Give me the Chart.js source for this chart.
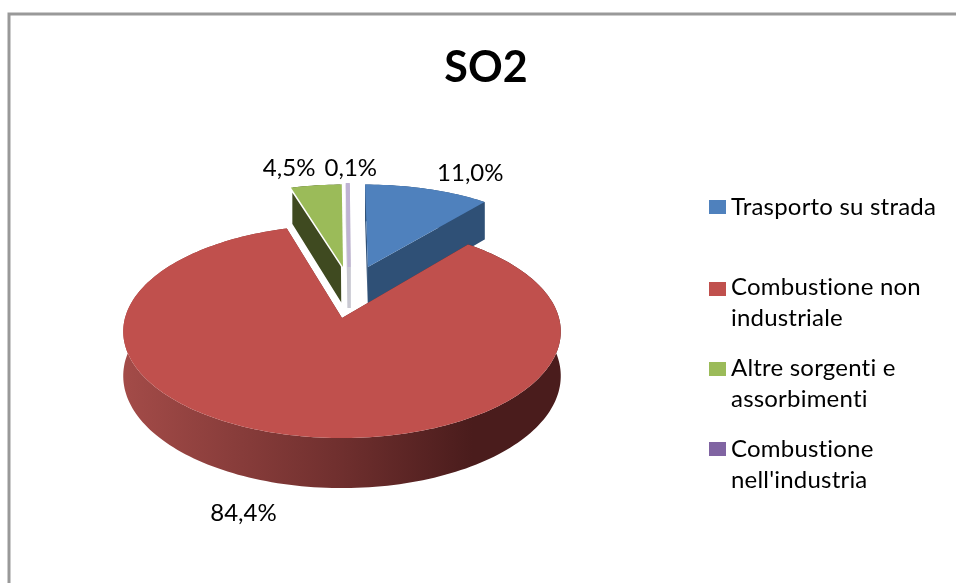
<!DOCTYPE html>
<html>
<head>
<meta charset="utf-8">
<script src="https://cdn.jsdelivr.net/npm/chart.js@4/dist/chart.umd.min.js"></script>
<style>
  html, body { margin: 0; padding: 0; background: #fff; }
  canvas { display: block; }
</style>
</head>
<body>
<canvas id="js-chart-canvas" width="956" height="583"></canvas>
<script>
const title = "SO2";
const categories = ["Trasporto su strada", "Combustione non industriale", "Altre sorgenti e assorbimenti", "Combustione nell'industria"];
const values = [11.0, 84.4, 4.5, 0.1];
const legendLines = [["Trasporto su strada"], ["Combustione non", "industriale"], ["Altre sorgenti e", "assorbimenti"], ["Combustione", "nell'industria"]];

const topColors = ["#4f81bd", "#c0504d", "#9bbb59", "#bfb3d3"];
const wallColors = ["#2f5076", "#6f2f2e", "#3f4a20", "#c9c9d2"];
const legendColors = ["#4f81bd", "#c0504d", "#9bbb59", "#8064a2"];

// 3d look of the pie: disc coordinates -> screen, with a little perspective
const pie3d = { cx: 342, cy: 318, rx: 217, ry: 104.8, persp: 0.127, depth: 43.7 };
const explode = [[0.127, 0.519], [0, 0], [0.005, 0.519], [0.035, 0.519]];
const drawOrder = [3, 2, 0, 1];
const labelOffsets = [[43, -16], [-49, 78], [-27, -17], [3, -16]];
const legendBoxY = [207, 289, 369, 449];
const legendTextY = [207, 287, 368, 449];

function project(u, v, down) {
  const w = 1 + pie3d.persp * v;
  return {
    x: pie3d.cx + (pie3d.rx * u) / w,
    y: pie3d.cy - (pie3d.ry * v) / w + (down ? pie3d.depth / w : 0),
  };
}

// chart.js angles start at 3 o'clock, turn them into clock angles
function rimPoints(arc, i) {
  const pts = [];
  const steps = Math.max(2, Math.ceil((arc.endAngle - arc.startAngle) * 40));
  for (let s = 0; s <= steps; s++) {
    const a = arc.startAngle + ((arc.endAngle - arc.startAngle) * s) / steps + Math.PI / 2;
    pts.push([explode[i][0] + Math.sin(a), explode[i][1] + Math.cos(a)]);
  }
  return pts;
}

function tracePoly(ctx, pts) {
  ctx.beginPath();
  pts.forEach((p, n) => (n ? ctx.lineTo(p.x, p.y) : ctx.moveTo(p.x, p.y)));
  ctx.closePath();
}

const pie3dDraw = {
  id: "pie3dDraw",

  beforeDraw(chart) {
    const ctx = chart.ctx;
    ctx.save();
    ctx.strokeStyle = "#999999";
    ctx.lineWidth = 3;
    ctx.strokeRect(9, 14, 1000, 1000);
    ctx.restore();
  },

  beforeDatasetDraw(chart) {
    const ctx = chart.ctx;
    const arcs = chart.getDatasetMeta(0).data;

    const sideGrad = ctx.createLinearGradient(pie3d.cx - pie3d.rx, 0, pie3d.cx + pie3d.rx, 0);
    sideGrad.addColorStop(0, "#a34b48");
    sideGrad.addColorStop(0.5, "#6f2f2e");
    sideGrad.addColorStop(0.8, "#4a1c1c");
    sideGrad.addColorStop(1, "#4a1c1c");

    ctx.save();
    drawOrder.forEach((i) => {
      const rim = rimPoints(arcs[i], i);
      const apex = explode[i];
      const top = [project(apex[0], apex[1])].concat(rim.map((p) => project(p[0], p[1])));
      const bottom = [project(apex[0], apex[1], true)].concat(rim.map((p) => project(p[0], p[1], true)));

      // walls: rim band plus both cut faces
      ctx.fillStyle = i === 1 ? sideGrad : wallColors[i];
      const band = top.slice(1).concat(bottom.slice(1).reverse());
      tracePoly(ctx, band);
      ctx.fill();
      [1, top.length - 1].forEach((e) => {
        tracePoly(ctx, [top[0], top[e], bottom[e], bottom[0]]);
        ctx.fill();
        if (i === 2 || i === 3) {
          ctx.strokeStyle = i === 2 ? "#ffffff" : wallColors[i];
          ctx.lineWidth = 3;
          ctx.stroke();
        }
      });

      tracePoly(ctx, top);
      ctx.fillStyle = topColors[i];
      ctx.fill();
      if (i === 3) {
        ctx.strokeStyle = topColors[i];
        ctx.lineWidth = 3;
        ctx.stroke();
      }
    });
    ctx.restore();
    return false;
  },

  afterDraw(chart) {
    const ctx = chart.ctx;
    const arcs = chart.getDatasetMeta(0).data;
    ctx.save();

    // percent labels
    ctx.font = "24px Lato";
    ctx.fillStyle = "#000000";
    ctx.textAlign = "center";
    ctx.textBaseline = "middle";
    values.forEach((val, i) => {
      const mid = (arcs[i].startAngle + arcs[i].endAngle) / 2 + Math.PI / 2;
      const p = project(explode[i][0] + Math.sin(mid), explode[i][1] + Math.cos(mid));
      ctx.fillText(val.toFixed(1).replace(".", ",") + "%", p.x + labelOffsets[i][0], p.y + labelOffsets[i][1]);
    });

    // legend
    ctx.textAlign = "left";
    ctx.letterSpacing = "0.2px";
    legendLines.forEach((lines, i) => {
      ctx.fillStyle = legendColors[i];
      ctx.fillRect(709, legendBoxY[i] - 7, 17, 14);
      ctx.fillStyle = "#000000";
      lines.forEach((line, n) => ctx.fillText(line, 731, legendTextY[i] + n * 31));
    });
    ctx.restore();
  },
};

const weightChart = new Chart(document.querySelector("#js-chart-canvas").getContext("2d"), {
  type: "pie",
  data: {
    labels: categories,
    datasets: [{ data: values, backgroundColor: topColors }],
  },
  options: {
    responsive: false,
    animation: false,
    layout: { padding: { top: 20, left: 16 } },
    plugins: {
      legend: { display: false },
      tooltip: { enabled: false },
      title: {
        display: true,
        text: title,
        color: "#000000",
        font: { family: "Lato", size: 43, weight: "bold" },
        padding: { top: 22, bottom: 10 },
      },
    },
  },
  plugins: [pie3dDraw],
});
</script>
</body>
</html>
